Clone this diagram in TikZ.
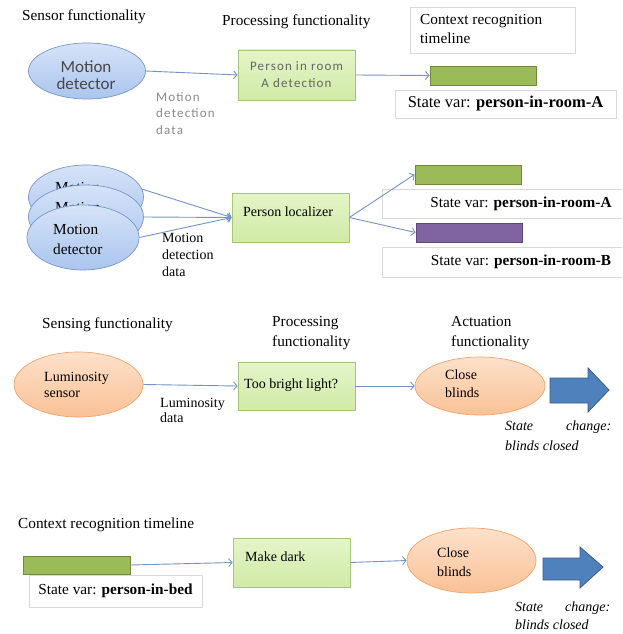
\documentclass[tikz,border=0pt]{standalone}
\usepackage{fontspec}
\setmainfont{Liberation Serif}
\newfontfamily\calfont{Carlito}
\newfontfamily\calspaced{Carlito}[LetterSpace=9]
\usetikzlibrary{arrows.meta,shapes.geometric}
\definecolor{arrowc}{HTML}{7394C6}
\definecolor{blueT}{HTML}{D6E3F8}
\definecolor{blueB}{HTML}{AAC5EE}
\definecolor{blueD}{HTML}{7896CC}
\definecolor{grnT}{HTML}{E4F5C9}
\definecolor{grnB}{HTML}{D0EAA6}
\definecolor{grnD}{HTML}{A6C675}
\definecolor{orT}{HTML}{FDE1CA}
\definecolor{orB}{HTML}{F9C196}
\definecolor{orD}{HTML}{F0A46D}
\definecolor{barG}{HTML}{9BBB59}
\definecolor{barGD}{HTML}{71893F}
\definecolor{barP}{HTML}{8064A2}
\definecolor{barPD}{HTML}{5C4776}
\definecolor{bigA}{HTML}{4F81BD}
\definecolor{bigAD}{HTML}{385D8A}
\definecolor{grayline}{HTML}{D9D9D9}
\definecolor{graytext}{HTML}{8A8A8A}
\begin{document}
\begin{tikzpicture}[x=1pt,y=-1pt,
  lbl/.style={inner sep=0pt, anchor=west, align=left, font=\fontsize{15.3}{20}\selectfont},
  small/.style={inner sep=0pt, anchor=west, align=left, font=\fontsize{14}{17}\selectfont},
  blueell/.style={ellipse, draw=blueD, line width=0.7pt, top color=blueT, bottom color=blueB, inner sep=0pt},
  orell/.style={ellipse, draw=orD, line width=0.7pt, top color=orT, bottom color=orB, inner sep=0pt},
  grnbox/.style={rectangle, draw=grnD, line width=0.7pt, top color=grnT, bottom color=grnB, inner sep=0pt},
  graybox/.style={rectangle, draw=grayline, line width=0.6pt, fill=white, inner sep=0pt},
  gbar/.style={rectangle, draw=barGD, line width=0.9pt, fill=barG, inner sep=0pt},
  pbar/.style={rectangle, draw=barPD, line width=0.9pt, fill=barP, inner sep=0pt},
  bigarrow/.style={draw=bigAD, line width=0.8pt, fill=bigA},
  conn/.style={draw=arrowc, line width=0.9pt, -{Straight Barb[length=3.5pt,width=8pt]}},
  svtext/.style={font=\fontsize{15.3}{18}\selectfont},
  ital/.style={inner sep=0pt, anchor=west, align=left, font=\itshape\fontsize{14}{19}\selectfont}
]
\clip (0,0) rectangle (622,634);
\fill[white] (0,0) rectangle (622,634);

% ---------- Section 1 ----------
\node[lbl] (t1) at (22,17) {Sensor functionality};
\node[lbl] (t2) at (222,22) {Processing functionality};
\node[graybox, minimum width=165, minimum height=46] (ctx) at (492.5,30) {};
\node[lbl, font=\fontsize{15.3}{19}\selectfont] (ctxt) at (420,29.5) {Context recognition\\timeline};

\node[blueell, minimum width=117, minimum height=56] (md) at (87,71) {};
\node[inner sep=0pt, align=center, font=\calfont\fontsize{17}{17}\selectfont, text=black!72] (mdt) at (86,75) {Motion\\detector};
\node[grnbox, minimum width=117, minimum height=50, align=center,
      font=\calspaced\fontsize{13}{17}\selectfont, text=black!60] (pr1) at (296.5,75) {Person in room\\A detection};
\node[inner sep=0pt, anchor=west, align=left, font=\calspaced\fontsize{13}{16.5}\selectfont, text=graytext] (mdd) at (156,113.5) {Motion\\detection\\data};

\node[gbar, minimum width=106, minimum height=19] (gb1) at (483,75.5) {};
\node[graybox, minimum width=221, minimum height=28, font=\fontsize{16.5}{18}\selectfont] (sv1) at (505.5,104) {State var: \textbf{person-in-room-A}};

\draw[conn] (md.east) -- (pr1.west);
\draw[conn] (pr1.east) -- (gb1.west);

% ---------- Section 2 ----------
\node[blueell, minimum width=115, minimum height=64] (e1) at (86,197) {};
\node[inner sep=0pt, anchor=west, font=\fontsize{15.3}{17}\selectfont] (e1t) at (55,188) {Motion};
\node[blueell, minimum width=115, minimum height=64] (e2) at (86,217) {};
\node[inner sep=0pt, anchor=west, font=\fontsize{15.3}{17}\selectfont] (e2t) at (55,208) {Motion};
\node[blueell, minimum width=112, minimum height=65] (e3) at (83,237.5) {};
\node[inner sep=0pt, anchor=west, align=left, font=\fontsize{15.3}{20}\selectfont] (e3t) at (53,240) {Motion\\detector};

\node[grnbox, minimum width=117, minimum height=49] (loc) at (290.5,217.5) {};
\node[small] (loct) at (243,212) {Person localizer};
\node[small] (mdd2) at (162,254.5) {Motion\\detection\\data};

\node[gbar, minimum width=106, minimum height=19] (gb2) at (468,174.5) {};
\node[graybox, minimum width=278, minimum height=29] (sv2) at (521,203.5) {};
\node[svtext, inner sep=0pt] (sv2t) at (521,203.5) {State var: \textbf{person-in-room-A}};
\node[pbar, minimum width=106, minimum height=19] (pb) at (469,232.5) {};
\node[graybox, minimum width=278, minimum height=30] (sv3) at (521,262) {};
\node[svtext, inner sep=0pt] (sv3t) at (521,262) {State var: \textbf{person-in-room-B}};

\draw[conn] (e1.8) -- (loc.west);
\draw[conn] (e2.east) -- (loc.west);
\draw[conn] (e3.east) -- (loc.west);
\draw[conn] (loc.east) -- (gb2.west);
\draw[conn] (loc.east) -- (pb.west);

% ---------- Section 3 ----------
\node[lbl] (t3) at (42,325) {Sensing functionality};
\node[lbl] (t4) at (272,333) {Processing\\functionality};
\node[lbl] (t5) at (451,333) {Actuation\\functionality};

\node[orell, minimum width=129, minimum height=65] (lum) at (78.5,384.5) {};
\node[small, font=\fontsize{14}{16}\selectfont] (lumt) at (44,385) {Luminosity\\sensor};
\node[grnbox, minimum width=117, minimum height=48] (tb) at (296.5,386) {};
\node[small] (tbt) at (244,385) {Too bright light?};
\node[small, font=\fontsize{14}{15.5}\selectfont] (lumd) at (160,410.5) {Luminosity\\data};

\node[orell, minimum width=130, minimum height=58] (cb1) at (480,386) {};
\node[small, font=\fontsize{14}{18}\selectfont] (cb1t) at (445,384) {Close\\blinds};

\path[bigarrow] (550,378) -- (588,378) -- (588,368) -- (609,390) -- (588,412) -- (588,403) -- (550,403) -- cycle;
\node[ital, font=\itshape\fontsize{14}{20}\selectfont] (sc1) at (505,436) {\makebox[106pt][l]{State\hfill change:}\\blinds closed};

\draw[conn] (lum.east) -- (tb.west);
\draw[conn] (tb.east) -- (cb1.west);

% ---------- Section 4 ----------
\node[lbl] (t6) at (18,525) {Context recognition timeline};
\node[gbar, minimum width=107, minimum height=18] (gb3) at (76.5,565) {};
\node[graybox, minimum width=173, minimum height=32, svtext] (sv4) at (115.5,591) {State var: \textbf{person-in-bed}};

\node[grnbox, minimum width=117, minimum height=49] (mdk) at (291.5,562.5) {};
\node[small] (mdkt) at (245,557) {Make dark};

\node[orell, minimum width=129, minimum height=65] (cb2) at (471.5,560.5) {};
\node[small, font=\fontsize{14}{19}\selectfont] (cb2t) at (437,562) {Close\\blinds};

\path[bigarrow] (543,558) -- (580,558) -- (580,547) -- (603,567) -- (580,588) -- (580,580) -- (543,580) -- cycle;
\node[ital, font=\itshape\fontsize{14}{18}\selectfont] (sc2) at (515,616) {\makebox[95pt][l]{State\hfill change:}\\blinds closed};

\draw[conn] (gb3.east) -- (mdk.west);
\draw[conn] (mdk.east) -- (cb2.west);
\end{tikzpicture}
\end{document}
